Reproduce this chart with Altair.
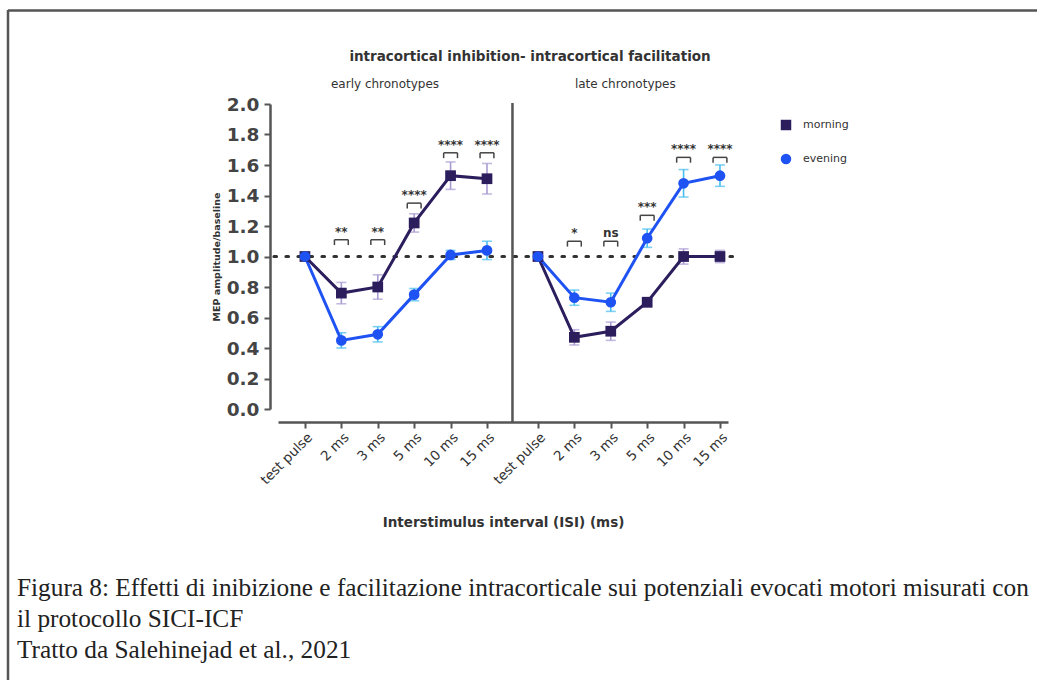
import json
import altair as alt
import pandas as pd

# ---------------- data ----------------
isi_labels = ["test pulse", "2 ms", "3 ms", "5 ms", "10 ms", "15 ms"]
groups = ["early chronotypes", "late chronotypes"]
series = ["morning", "evening"]

early_morning = [1.00, 0.76, 0.80, 1.22, 1.53, 1.51]
early_morning_err = [0.0, 0.07, 0.08, 0.06, 0.09, 0.10]
early_evening = [1.00, 0.45, 0.49, 0.75, 1.01, 1.04]
early_evening_err = [0.0, 0.05, 0.05, 0.04, 0.03, 0.06]

late_morning = [1.00, 0.47, 0.51, 0.70, 1.00, 1.00]
late_morning_err = [0.0, 0.05, 0.06, 0.03, 0.05, 0.04]
late_evening = [1.00, 0.73, 0.70, 1.12, 1.48, 1.53]
late_evening_err = [0.0, 0.05, 0.06, 0.06, 0.09, 0.07]

early_sig_labels = ["**", "**", "****", "****", "****"]
early_sig_height = [1.11, 1.11, 1.35, 1.68, 1.68]
late_sig_labels = ["*", "ns", "***", "****", "****"]
late_sig_height = [1.10, 1.10, 1.27, 1.65, 1.65]

chart_title = "intracortical inhibition- intracortical facilitation"
y_title = "MEP amplitude/baseline"
x_title = "Interstimulus interval (ISI) (ms)"
caption = [
    "Figura 8: Effetti di inibizione e facilitazione intracorticale sui potenziali evocati motori misurati con",
    "il protocollo SICI-ICF",
    "Tratto da Salehinejad et al., 2021",
]

# ---------------- layout constants ----------------
GAP = 6.4            # offset of the second group on the x scale
W, H = 450, 305
PAD_L, PAD_T = 278, 104
FONT = "DejaVu Sans"
AXIS_C = "#555555"
TEXT_C = "#333333"
MORNING_C = "#2c1d5c"
EVENING_C = "#1f52f2"
MORNING_ERR = "#a99bd2"
EVENING_ERR = "#47bdf0"

values = {
    ("early chronotypes", "morning"): (early_morning, early_morning_err),
    ("early chronotypes", "evening"): (early_evening, early_evening_err),
    ("late chronotypes", "morning"): (late_morning, late_morning_err),
    ("late chronotypes", "evening"): (late_evening, late_evening_err),
}

rows = []
for g, group in enumerate(groups):
    for s in series:
        m, e = values[(group, s)]
        for i, lab in enumerate(isi_labels):
            rows.append(dict(group=group, series=s, key=group + s, isi=lab,
                             x=i + g * GAP, mean=m[i], lo=m[i] - e[i], hi=m[i] + e[i]))
df = pd.DataFrame(rows)

sig_rows = []
for g, (labs, hs) in enumerate([(early_sig_labels, early_sig_height),
                                (late_sig_labels, late_sig_height)]):
    for j, (lab, h) in enumerate(zip(labs, hs)):
        xc = j + 1 + g * GAP
        sig_rows.append(dict(x=xc, xl=xc - 0.19, xr=xc + 0.19, top=h, bot=h - 0.035, label=lab))
sig = pd.DataFrame(sig_rows)

tick_pos = [i + g * GAP for g in range(len(groups)) for i in range(len(isi_labels))]
names_js = json.dumps(isi_labels)
label_expr = (f"datum.value < {GAP - 0.7} ? {names_js}[round(datum.value)] "
              f": {names_js}[round(datum.value - {GAP})]")

xscale = alt.Scale(domain=[-0.74, 11.62], nice=False, zero=False)
yscale = alt.Scale(domain=[0, 2], nice=False, zero=False)

xaxis = alt.Axis(values=tick_pos, labelExpr=label_expr, labelAngle=-45, labelFontSize=13.5,
                 labelColor=TEXT_C, labelFont=FONT, offset=13, domainColor=AXIS_C, domainWidth=2.5,
                 tickColor=AXIS_C, tickWidth=2, tickSize=6, labelPadding=2, grid=False,
                 labelOverlap=False, labelBound=False,
                 title=x_title, titleFont=FONT, titleFontSize=13.5, titleFontWeight="bold",
                 titleColor=TEXT_C, titlePadding=29)
yaxis = alt.Axis(values=[round(0.2 * k, 1) for k in range(11)], format=".1f", labelFontSize=18.5,
                 labelFontWeight="bold", labelOverlap=False,
                 labelColor="#444444", labelFont=FONT, offset=8, domainColor=AXIS_C, domainWidth=2.5,
                 tickColor=AXIS_C, tickWidth=2, tickSize=6, labelPadding=5, grid=False,
                 title=y_title, titleFont=FONT, titleFontSize=9.5, titleFontWeight="bold",
                 titleColor=TEXT_C, titlePadding=5)


def X(field):
    return alt.X(f"{field}:Q", scale=xscale, axis=xaxis)


def Y(field):
    return alt.Y(f"{field}:Q", scale=yscale, axis=yaxis)


# reference dotted line
ref_df = pd.DataFrame({"x": [-0.85], "x2": [11.95], "y": [1.0]})
ref = alt.Chart(ref_df).mark_rule(color="#333333", strokeWidth=3.2, strokeDash=[2.5, 9.5],
                                  strokeCap="round").encode(x=X("x"), x2="x2:Q", y=Y("y"))

# divider
div_df = pd.DataFrame({"x": [(len(isi_labels) - 1 + GAP) / 2]})
divider = alt.Chart(div_df).mark_rule(color=AXIS_C, strokeWidth=2.5).encode(
    x=X("x"), y=alt.value(-1), y2=alt.value(H + 13))

series_layers = []
for s, c, ec in zip(series, [MORNING_C, EVENING_C], [MORNING_ERR, EVENING_ERR]):
    base = alt.Chart(df).transform_filter(alt.datum.series == s)
    series_layers.append(base.mark_rule(color=ec, strokeWidth=1.6).encode(x=X("x"), y=Y("lo"), y2="hi:Q"))
    series_layers.append(base.mark_tick(color=ec, thickness=1.6, size=10, orient="horizontal").encode(
        x=X("x"), y=Y("lo")))
    series_layers.append(base.mark_tick(color=ec, thickness=1.6, size=10, orient="horizontal").encode(
        x=X("x"), y=Y("hi")))
for s, c in zip(series, [MORNING_C, EVENING_C]):
    base = alt.Chart(df).transform_filter(alt.datum.series == s)
    series_layers.append(base.mark_line(color=c, strokeWidth=3).encode(x=X("x"), y=Y("mean"), detail="group:N"))

legend = alt.Legend(title=None, orient="none", legendX=502, legendY=15, labelFont=FONT,
                    labelFontSize=11, labelColor=TEXT_C, symbolSize=110, rowPadding=22,
                    labelOffset=11)
points = alt.Chart(df).mark_point(filled=True, size=115, opacity=1).encode(
    x=X("x"), y=Y("mean"),
    color=alt.Color("series:N", scale=alt.Scale(domain=series, range=[MORNING_C, EVENING_C]),
                    legend=legend),
    shape=alt.Shape("series:N", scale=alt.Scale(domain=series, range=["square", "circle"]),
                    legend=legend),
)

bsig = alt.Chart(sig)
br_top = bsig.mark_rule(color="#444444", strokeWidth=1.5).encode(x=X("xl"), x2="xr:Q", y=Y("top"))
br_l = bsig.mark_rule(color="#444444", strokeWidth=1.5).encode(x=X("xl"), y=Y("bot"), y2="top:Q")
br_r = bsig.mark_rule(color="#444444", strokeWidth=1.5).encode(x=X("xr"), y=Y("bot"), y2="top:Q")
stars = bsig.mark_text(font=FONT, fontSize=12, fontWeight="bold", color="#333333", dy=-4,
                       baseline="alphabetic").encode(x=X("x"), y=Y("top"), text="label:N")

# titles / caption / frame (pixel positions relative to plot origin)
title_t = alt.Chart(pd.DataFrame({"t": [chart_title]})).mark_text(
    font=FONT, fontSize=13.5, fontWeight="bold", color=TEXT_C, align="center", baseline="middle"
).encode(x=alt.value(530 - PAD_L), y=alt.value(57 - PAD_T), text="t:N")

grp_df = pd.DataFrame({"g": groups, "x": [(len(isi_labels) - 1) / 2 - 0.3,
                                          GAP + (len(isi_labels) - 1) / 2 - 0.1]})
grp_t = alt.Chart(grp_df).mark_text(font=FONT, fontSize=12, color=TEXT_C, align="center",
                                    baseline="middle").encode(
    x=X("x"), y=alt.value(84 - PAD_T), text="g:N")

cap_t = alt.Chart(pd.DataFrame({"t": ["\n".join(caption)]})).mark_text(
    font="Liberation Serif", fontSize=25.3, color="#222222", align="left", baseline="alphabetic",
    lineBreak="\n", lineHeight=31).encode(
    x=alt.value(17 - PAD_L), y=alt.value(596 - PAD_T), text="t:N")

frame_top = alt.Chart(pd.DataFrame({"a": [0]})).mark_rule(color="#555555", strokeWidth=2.5).encode(
    x=alt.value(8 - PAD_L), x2=alt.value(1037 - PAD_L + 5), y=alt.value(10.5 - PAD_T))
frame_left = alt.Chart(pd.DataFrame({"a": [0]})).mark_rule(color="#555555", strokeWidth=2.5).encode(
    x=alt.value(8 - PAD_L), y=alt.value(10 - PAD_T), y2=alt.value(680 - PAD_T + 5))

chart = alt.layer(
    frame_top, frame_left, ref, divider, *series_layers, points,
    br_top, br_l, br_r, stars, title_t, grp_t, cap_t,
).properties(
    width=W, height=H,
    autosize=alt.AutoSizeParams(type="none"),
    padding={"left": PAD_L, "top": PAD_T, "right": 1037 - PAD_L - W, "bottom": 680 - PAD_T - H},
    background="white",
).configure_view(stroke=None)

chart.save("out.html", embed_options={"renderer": "svg", "actions": False})
